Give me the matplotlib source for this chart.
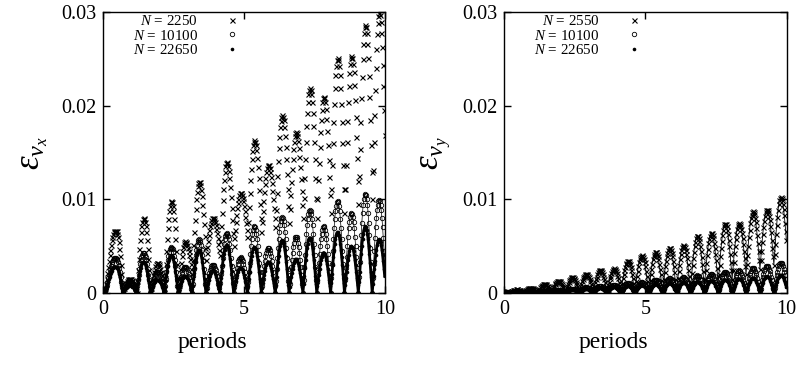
import numpy as np
import matplotlib
matplotlib.use("Agg")
import matplotlib.pyplot as plt

plt.rcParams['font.family'] = 'serif'
plt.rcParams['font.serif'] = ['Liberation Serif', 'DejaVu Serif']
plt.rcParams['mathtext.fontset'] = 'custom'
plt.rcParams['mathtext.rm'] = 'Liberation Serif'
plt.rcParams['mathtext.it'] = 'Liberation Serif:italic'

# time step between samples (periods); errors below are in units of 1e-5
dt = 0.0246

# left panel, eps_vx
ex_2250 = [
    0, 5, 20, 50, 95, 150, 210, 275, 340, 400, 460, 512, 560, 600, 632, 652, 662, 665,
    665, 657, 632, 593, 538, 470, 391, 302, 205, 104,
    0, 23, 46, 68, 88, 106, 121, 134, 143, 148, 150, 148, 143, 134, 121, 106, 88, 68, 46, 23,
    0, 125, 247, 363, 470, 566, 647, 713, 761, 790, 800, 790, 761, 713, 647, 566, 470, 363, 247, 125,
    0, 50, 99, 145, 188, 226, 259, 285, 304, 316, 320, 316, 304, 285, 259, 226, 188, 145, 99, 50,
    0, 153, 303, 445, 576, 693, 793, 873, 932, 968, 980, 968, 932, 873, 793, 693, 576, 445, 303, 153,
    0, 86, 170, 250, 323, 389, 445, 490, 523, 543, 550, 546, 533, 512, 483, 447, 406, 359, 308, 255,
    200, 354, 506, 649, 782, 900, 1001, 1082, 1141, 1178, 1190, 1180, 1149, 1098, 1030, 944, 844, 731, 610, 481,
    350, 420, 489, 554, 615, 668, 714, 751, 778, 795, 800, 795, 780, 756, 724, 683, 635, 582, 524, 462,
    400, 556, 709, 854, 988, 1107, 1209, 1291, 1351, 1388, 1400, 1389, 1356, 1302, 1228, 1136, 1029, 909, 778, 640,
    500, 589, 676, 759, 835, 903, 961, 1008, 1042, 1063, 1070, 1064, 1047, 1019, 980, 932, 876, 813, 745, 673,
    600, 761, 918, 1068, 1206, 1328, 1433, 1518, 1580, 1618, 1630, 1618, 1582, 1523, 1443, 1343, 1226, 1095, 953, 803,
    650, 762, 872, 977, 1073, 1159, 1232, 1292, 1335, 1361, 1370, 1362, 1337, 1297, 1242, 1174, 1094, 1004, 907, 805,
    700, 887, 1071, 1245, 1406, 1548, 1671, 1769, 1841, 1886, 1900, 1886, 1844, 1775, 1680, 1563, 1426, 1272, 1105, 929,
    750, 901, 1050, 1190, 1320, 1436, 1535, 1614, 1672, 1708, 1720, 1709, 1675, 1620, 1544, 1450, 1341, 1218, 1084, 944,
    800, 1017, 1230, 1431, 1617, 1783, 1925, 2038, 2122, 2173, 2190, 2173, 2122, 2038, 1925, 1783, 1617, 1431, 1230, 1017,
    800, 1003, 1202, 1390, 1564, 1719, 1852, 1958, 2036, 2084, 2100, 2085, 2039, 1964, 1861, 1734, 1585, 1418, 1236, 1045,
    850, 1109, 1363, 1604, 1826, 2024, 2193, 2329, 2429, 2490, 2510, 2490, 2429, 2329, 2193, 2024, 1826, 1604, 1363, 1109,
    850, 1112, 1369, 1613, 1838, 2038, 2209, 2347, 2448, 2510, 2530, 2511, 2453, 2358, 2228, 2067, 1879, 1667, 1438, 1196,
    950, 1250, 1543, 1822, 2079, 2307, 2503, 2661, 2776, 2847, 2870, 2848, 2778, 2666, 2513, 2322, 2100, 1849, 1578, 1292,
    1000, 1310, 1615, 1903, 2170, 2407, 2610, 2773, 2892, 2966, 2990, 2967, 2897, 2784, 2629, 2436, 2211, 1958, 1684,
]
ex_10100 = [
    0, 3, 11, 28, 53, 83, 117, 153, 189, 222, 256, 285, 311, 334, 351, 363, 368, 370,
    370, 366, 352, 330, 299, 262, 218, 168, 114, 58,
    0, 20, 40, 59, 76, 92, 105, 116, 124, 128, 130, 128, 124, 116, 105, 92, 76, 59, 40, 20,
    0, 67, 133, 195, 253, 304, 348, 383, 409, 425, 430, 425, 409, 383, 348, 304, 253, 195, 133, 67,
    0, 34, 68, 100, 129, 156, 178, 196, 209, 217, 220, 217, 209, 196, 178, 156, 129, 100, 68, 34,
    0, 76, 151, 222, 288, 346, 396, 437, 466, 484, 490, 484, 466, 437, 396, 346, 288, 222, 151, 76,
    0, 44, 87, 127, 165, 198, 227, 249, 266, 277, 280, 277, 266, 249, 227, 198, 165, 127, 87, 44,
    0, 89, 176, 259, 335, 403, 461, 508, 542, 563, 570, 563, 542, 508, 461, 403, 335, 259, 176, 89,
    0, 47, 93, 136, 176, 212, 243, 267, 285, 296, 300, 296, 285, 267, 243, 212, 176, 136, 93, 47,
    0, 100, 198, 291, 376, 452, 518, 570, 609, 632, 640, 632, 609, 570, 518, 452, 376, 291, 198, 100,
    0, 59, 117, 173, 223, 269, 307, 339, 361, 375, 380, 375, 361, 339, 307, 269, 223, 173, 117, 59,
    0, 111, 219, 322, 417, 502, 574, 633, 675, 701, 710, 701, 675, 633, 574, 502, 417, 322, 219, 111,
    0, 75, 148, 218, 282, 339, 388, 428, 456, 474, 480, 474, 456, 428, 388, 339, 282, 218, 148, 75,
    0, 126, 250, 368, 476, 573, 655, 722, 770, 800, 810, 800, 770, 722, 655, 573, 476, 368, 250, 126,
    0, 94, 185, 272, 353, 424, 485, 535, 571, 593, 600, 593, 571, 535, 485, 424, 353, 272, 185, 94,
    0, 139, 275, 404, 523, 629, 720, 793, 846, 879, 890, 879, 846, 793, 720, 629, 523, 404, 275, 139,
    0, 111, 219, 322, 417, 502, 574, 633, 675, 701, 710, 701, 675, 633, 574, 502, 417, 322, 219, 111,
    0, 153, 303, 445, 576, 693, 793, 873, 932, 968, 980, 968, 932, 873, 793, 693, 576, 445, 303, 153,
    0, 133, 263, 386, 500, 601, 688, 757, 808, 840, 850, 840, 808, 757, 688, 601, 500, 386, 263, 133,
    0, 165, 328, 481, 623, 749, 858, 944, 1008, 1047, 1060, 1047, 1008, 944, 858, 749, 623, 481, 328, 165,
    0, 154, 306, 449, 582, 700, 801, 882, 941, 978, 990, 978, 941, 882, 801, 700, 582, 449, 306,
]
ex_22650 = [
    0, 2, 8, 21, 40, 63, 88, 116, 143, 168, 194, 216, 236, 253, 266, 275, 279, 280,
    280, 277, 266, 249, 227, 198, 165, 127, 87, 44,
    0, 12, 25, 36, 47, 57, 65, 71, 76, 79, 80, 79, 76, 71, 65, 57, 47, 36, 25, 12,
    0, 51, 102, 150, 194, 233, 267, 294, 314, 326, 330, 326, 314, 294, 267, 233, 194, 150, 102, 51,
    0, 22, 43, 64, 82, 99, 113, 125, 133, 138, 140, 138, 133, 125, 113, 99, 82, 64, 43, 22,
    0, 62, 124, 182, 235, 283, 324, 356, 380, 395, 400, 395, 380, 356, 324, 283, 235, 182, 124, 62,
    0, 28, 56, 82, 106, 127, 146, 160, 171, 178, 180, 178, 171, 160, 146, 127, 106, 82, 56, 28,
    0, 72, 142, 209, 270, 325, 372, 410, 437, 454, 460, 454, 437, 410, 372, 325, 270, 209, 142, 72,
    0, 37, 74, 109, 141, 170, 194, 214, 228, 237, 240, 237, 228, 214, 194, 170, 141, 109, 74, 37,
    0, 80, 158, 232, 300, 361, 413, 454, 485, 504, 510, 504, 485, 454, 413, 361, 300, 232, 158, 80,
    0, 42, 83, 123, 159, 191, 218, 241, 257, 267, 270, 267, 257, 241, 218, 191, 159, 123, 83, 42,
    0, 76, 151, 222, 288, 346, 396, 437, 466, 484, 490, 484, 466, 437, 396, 346, 288, 222, 151, 76,
    0, 51, 102, 150, 194, 233, 267, 294, 314, 326, 330, 326, 314, 294, 267, 233, 194, 150, 102, 51,
    0, 87, 173, 254, 329, 396, 453, 499, 533, 553, 560, 553, 533, 499, 453, 396, 329, 254, 173, 87,
    0, 56, 111, 163, 212, 255, 291, 321, 342, 356, 360, 356, 342, 321, 291, 255, 212, 163, 111, 56,
    0, 92, 182, 268, 347, 417, 477, 526, 561, 583, 590, 583, 561, 526, 477, 417, 347, 268, 182, 92,
    0, 67, 133, 195, 253, 304, 348, 383, 409, 425, 430, 425, 409, 383, 348, 304, 253, 195, 133, 67,
    0, 101, 201, 295, 382, 460, 526, 579, 618, 642, 650, 642, 618, 579, 526, 460, 382, 295, 201, 101,
    0, 78, 155, 227, 294, 354, 405, 446, 476, 494, 500, 494, 476, 446, 405, 354, 294, 227, 155, 78,
    0, 111, 219, 322, 417, 502, 574, 633, 675, 701, 710, 701, 675, 633, 574, 502, 417, 322, 219, 111,
    0, 89, 176, 259, 335, 403, 461, 508, 542, 563, 570, 563, 542, 508, 461, 403, 335, 259, 176,
]

# right panel, eps_vy
ey_2550 = [
    0, 4, 8, 12, 15, 14, 10, 5,
    0, 5, 11, 16, 21, 25, 28, 31, 33, 35, 35, 35, 33, 31, 28, 25, 21, 16, 11, 5,
    0, 9, 17, 25, 32, 39, 44, 49, 52, 54, 55, 54, 52, 49, 44, 39, 32, 25, 17, 9,
    0, 15, 29, 43, 56, 67, 77, 85, 90, 94, 95, 94, 90, 85, 77, 67, 56, 43, 29, 15,
    0, 20, 40, 59, 76, 92, 105, 116, 124, 128, 130, 128, 124, 116, 105, 92, 76, 59, 40, 20,
    0, 26, 51, 75, 97, 117, 133, 147, 157, 163, 165, 163, 157, 147, 133, 117, 97, 75, 51, 26,
    0, 32, 63, 93, 121, 145, 166, 183, 195, 203, 205, 203, 195, 183, 166, 145, 121, 93, 63, 32,
    0, 38, 76, 111, 144, 173, 198, 218, 233, 242, 245, 242, 233, 218, 198, 173, 144, 111, 76, 38,
    0, 41, 80, 118, 153, 184, 210, 232, 247, 257, 260, 257, 247, 232, 210, 184, 153, 118, 80, 41,
    0, 53, 105, 154, 200, 240, 275, 303, 323, 336, 340, 336, 323, 303, 275, 240, 200, 154, 105, 53,
    0, 62, 124, 182, 235, 283, 324, 356, 380, 395, 400, 395, 380, 356, 324, 283, 235, 182, 124, 62,
    0, 69, 136, 200, 259, 311, 356, 392, 418, 435, 440, 435, 418, 392, 356, 311, 259, 200, 136, 69,
    0, 75, 148, 218, 282, 339, 388, 428, 456, 474, 480, 474, 456, 428, 388, 339, 282, 218, 148, 75,
    0, 80, 158, 232, 300, 361, 413, 454, 485, 504, 510, 504, 486, 458, 418, 369, 312, 248, 178, 105,
    30, 120, 209, 293, 371, 440, 499, 547, 582, 603, 610, 603, 583, 550, 505, 449, 383, 310, 230, 146,
    60, 150, 239, 323, 401, 470, 529, 577, 612, 633, 640, 634, 614, 581, 537, 482, 418, 345, 267, 184,
    100, 200, 298, 391, 476, 552, 618, 670, 709, 732, 740, 733, 711, 676, 627, 567, 497, 418, 332, 242,
    150, 243, 334, 420, 500, 571, 631, 680, 716, 738, 745, 738, 718, 686, 641, 585, 520, 447, 368, 285,
    200, 305, 407, 504, 594, 674, 742, 797, 837, 862, 870, 863, 840, 802, 752, 688, 615, 531, 442, 347,
    250, 350, 448, 541, 626, 702, 768, 820, 859, 882, 890, 883, 861, 826, 777, 717, 647, 568, 482, 392,
    300, 413, 524, 629, 726, 813, 887, 946, 989, 1016, 1025, 1017, 992, 951, 896, 827, 747, 656, 559,
]
ey_10100 = [
    0, 2, 4, 5, 6, 5, 3, 1,
    0, 1, 2, 2, 3, 4, 4, 4, 5, 5, 5, 5, 5, 4, 4, 4, 3, 2, 2, 1,
    0, 2, 3, 5, 6, 7, 8, 9, 10, 10, 10, 10, 10, 9, 8, 7, 6, 5, 3, 2,
    0, 3, 6, 9, 12, 14, 16, 18, 19, 20, 20, 20, 19, 18, 16, 14, 12, 9, 6, 3,
    0, 5, 10, 15, 19, 23, 26, 29, 30, 32, 32, 32, 30, 29, 26, 23, 19, 15, 10, 5,
    0, 7, 14, 20, 26, 32, 36, 40, 43, 44, 45, 44, 43, 40, 36, 32, 26, 20, 14, 7,
    0, 9, 18, 26, 34, 41, 47, 52, 55, 57, 58, 57, 55, 52, 47, 41, 34, 26, 18, 9,
    0, 11, 22, 33, 42, 51, 58, 64, 68, 71, 72, 71, 68, 64, 58, 51, 42, 33, 22, 11,
    0, 13, 27, 39, 51, 61, 70, 77, 82, 85, 86, 85, 82, 77, 70, 61, 51, 39, 27, 13,
    0, 16, 31, 45, 59, 71, 81, 89, 95, 99, 100, 99, 95, 89, 81, 71, 59, 45, 31, 16,
    0, 18, 36, 52, 68, 81, 93, 102, 109, 114, 115, 114, 109, 102, 93, 81, 68, 52, 36, 18,
    0, 22, 43, 64, 82, 99, 113, 125, 133, 138, 140, 138, 133, 125, 113, 99, 82, 64, 43, 22,
    0, 24, 48, 70, 91, 110, 125, 138, 147, 153, 155, 153, 147, 138, 125, 110, 91, 70, 48, 24,
    0, 27, 53, 77, 100, 120, 138, 151, 162, 168, 170, 168, 162, 151, 138, 120, 100, 77, 53, 27,
    0, 29, 57, 84, 109, 131, 150, 165, 176, 183, 185, 183, 176, 165, 150, 131, 109, 84, 57, 29,
    0, 31, 62, 91, 118, 141, 162, 178, 190, 198, 200, 198, 190, 178, 162, 141, 118, 91, 62, 31,
    0, 34, 68, 100, 129, 156, 178, 196, 209, 217, 220, 217, 209, 196, 178, 156, 129, 100, 68, 34,
    0, 37, 74, 109, 141, 170, 194, 214, 228, 237, 240, 237, 228, 214, 194, 170, 141, 109, 74, 37,
    0, 41, 82, 120, 156, 187, 214, 236, 252, 262, 265, 262, 252, 236, 214, 187, 156, 120, 82, 41,
    0, 45, 90, 132, 171, 205, 235, 258, 276, 287, 290, 287, 276, 258, 235, 205, 171, 132, 90, 45,
    0, 50, 99, 145, 188, 226, 259, 285, 304, 316, 320, 316, 304, 285, 259, 226, 188, 145, 99,
]
ey_22650 = [
    0, 1, 2, 3, 3, 3, 2, 1,
    0, 0, 1, 1, 2, 2, 2, 3, 3, 3, 3, 3, 3, 3, 2, 2, 2, 1, 1, 0,
    0, 1, 2, 3, 4, 4, 5, 5, 6, 6, 6, 6, 6, 5, 5, 4, 4, 3, 2, 1,
    0, 2, 4, 5, 7, 8, 10, 11, 11, 12, 12, 12, 11, 11, 10, 8, 7, 5, 4, 2,
    0, 3, 6, 9, 12, 14, 16, 18, 19, 20, 20, 20, 19, 18, 16, 14, 12, 9, 6, 3,
    0, 5, 9, 14, 18, 21, 24, 27, 29, 30, 30, 30, 29, 27, 24, 21, 18, 14, 9, 5,
    0, 6, 12, 18, 24, 28, 32, 36, 38, 40, 40, 40, 38, 36, 32, 28, 24, 18, 12, 6,
    0, 8, 15, 23, 29, 35, 40, 45, 48, 49, 50, 49, 48, 45, 40, 35, 29, 23, 15, 8,
    0, 9, 19, 27, 35, 42, 49, 53, 57, 59, 60, 59, 57, 53, 49, 42, 35, 27, 19, 9,
    0, 11, 22, 32, 41, 49, 57, 62, 67, 69, 70, 69, 67, 62, 57, 49, 41, 32, 22, 11,
    0, 12, 25, 36, 47, 57, 65, 71, 76, 79, 80, 79, 76, 71, 65, 57, 47, 36, 25, 12,
    0, 14, 28, 42, 54, 65, 74, 82, 87, 91, 92, 91, 87, 82, 74, 65, 54, 42, 28, 14,
    0, 16, 31, 45, 59, 71, 81, 89, 95, 99, 100, 99, 95, 89, 81, 71, 59, 45, 31, 16,
    0, 17, 34, 50, 65, 78, 89, 98, 105, 109, 110, 109, 105, 98, 89, 78, 65, 50, 34, 17,
    0, 19, 37, 54, 71, 85, 97, 107, 114, 119, 120, 119, 114, 107, 97, 85, 71, 54, 37, 19,
    0, 20, 40, 59, 76, 92, 105, 116, 124, 128, 130, 128, 124, 116, 105, 92, 76, 59, 40, 20,
    0, 22, 43, 64, 82, 99, 113, 125, 133, 138, 140, 138, 133, 125, 113, 99, 82, 64, 43, 22,
    0, 23, 46, 68, 88, 106, 121, 134, 143, 148, 150, 148, 143, 134, 121, 106, 88, 68, 46, 23,
    0, 25, 49, 73, 94, 113, 129, 143, 152, 158, 160, 158, 152, 143, 129, 113, 94, 73, 49, 25,
    0, 27, 54, 79, 103, 124, 142, 156, 166, 173, 175, 173, 166, 156, 142, 124, 103, 79, 54, 27,
    0, 30, 59, 86, 112, 134, 154, 169, 181, 188, 190, 188, 181, 169, 154, 134, 112, 86, 59,
]

left_labels = [r'$N$ = 2250', r'$N$ = 10100', r'$N$ = 22650']
right_labels = [r'$N$ = 2550', r'$N$ = 10100', r'$N$ = 22650']
xticks = [0, 5, 10]
yticks = [0, 0.01, 0.02, 0.03]
ytick_labels = ['0', '0.01', '0.02', '0.03']

marker_styles = [
    dict(marker='x', ms=3.6, mew=0.8, color='black', ls='none'),
    dict(marker='o', ms=3.2, mew=0.6, mfc='none', color='black', ls='none'),
    dict(marker='o', ms=2.6, mew=0, color='black', ls='none'),
]


def draw_panel(ax, series, labels, ylabel, ylabel_x, line_widths):
    for y, lab, st, lw in zip(series, labels, marker_styles, line_widths):
        y = np.array(y) * 1e-5
        x = np.arange(len(y)) * dt
        # thin joins so the dense humps read as solid arches
        if lw > 0:
            ax.plot(x, y, '-', color='black', lw=lw)
        ax.plot(x, y, label=lab, **st)
    ax.set_xlim(0, 10)
    ax.set_ylim(0, 0.03)
    ax.set_xticks(xticks)
    ax.set_xticklabels([str(t) for t in xticks])
    ax.set_yticks(yticks)
    ax.set_yticklabels(ytick_labels)
    ax.tick_params(direction='in', length=5, width=1, top=True, right=True,
                   labelsize=14.5, pad=5)
    for sp in ax.spines.values():
        sp.set_linewidth(1.0)
    ax.set_xlabel('periods', fontsize=17)
    ax.xaxis.set_label_coords(0.386, -0.14)
    ax.set_ylabel(ylabel, fontsize=25)
    ax.yaxis.set_label_coords(ylabel_x, 0.5)
    ax.legend(loc='upper right', bbox_to_anchor=(0.485, 0.995), frameon=False,
              markerfirst=False, handlelength=1.0, handletextpad=1.8,
              fontsize=10.8, labelspacing=0.05, borderpad=0, borderaxespad=0)


fig = plt.figure(figsize=(7.98, 3.65), dpi=100)
ax1 = fig.add_axes([0.1295, 0.198, 0.353, 0.768])
ax2 = fig.add_axes([0.6316, 0.198, 0.3543, 0.768])

draw_panel(ax1, [ex_2250, ex_10100, ex_22650], left_labels,
           r'$\varepsilon_{v_x}$', -0.19, [0, 0.5, 2.0])
draw_panel(ax2, [ey_2550, ey_10100, ey_22650], right_labels,
           r'$\varepsilon_{v_y}$', -0.18, [0.6, 0.5, 2.0])

fig.savefig('out.png', dpi=100)
